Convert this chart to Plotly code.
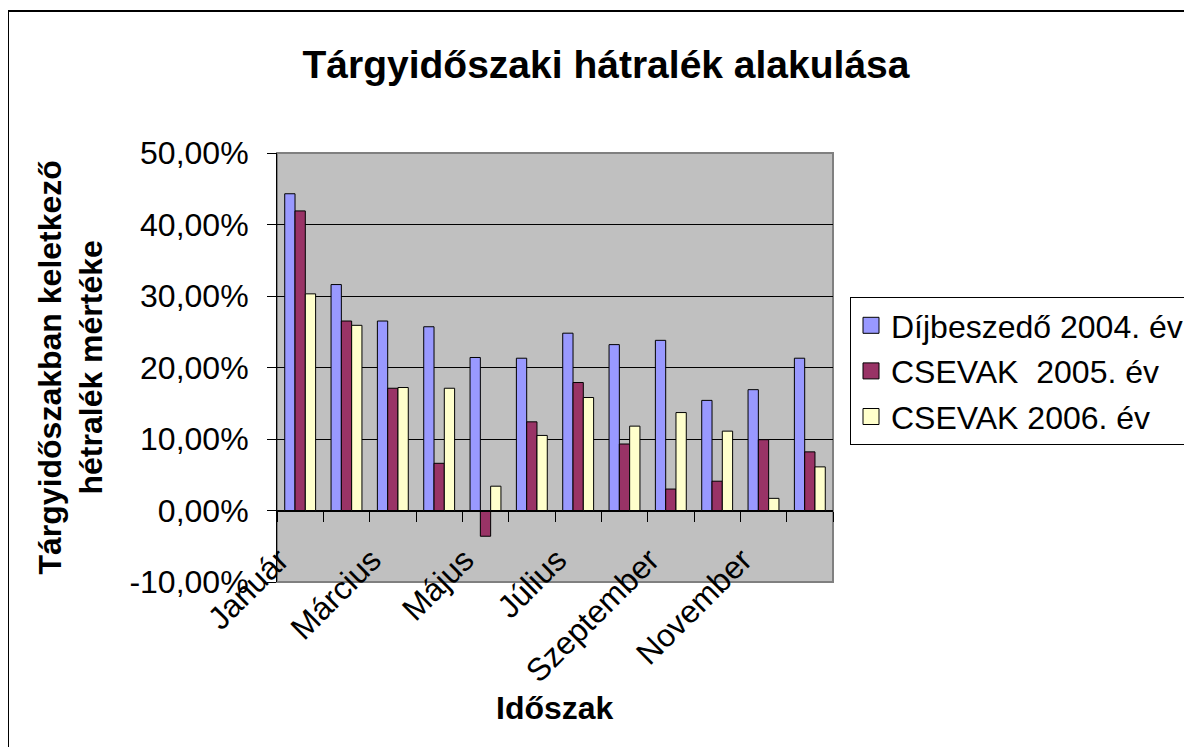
import numpy as np
import plotly.graph_objects as go

months = ["Január", "Február", "Március", "Április", "Május", "Június",
          "Július", "Augusztus", "Szeptember", "Október", "November", "December"]
dij_2004 = [44.3, 31.6, 26.5, 25.7, 21.4, 21.3, 24.8, 23.2, 23.8, 15.4, 16.9, 21.3]
csevak_2005 = [41.9, 26.5, 17.1, 6.6, -3.6, 12.4, 17.9, 9.3, 3.0, 4.1, 9.9, 8.2]
csevak_2006 = [30.3, 25.9, 17.2, 17.1, 3.4, 10.5, 15.8, 11.8, 13.7, 11.1, 1.7, 6.1]
series_names = ["Díjbeszedő 2004. év", "CSEVAK  2005. év", "CSEVAK 2006. év"]
y_ticks = [-10, 0, 10, 20, 30, 40, 50]
y_ticktext = [f"{v:.2f}".replace(".", ",") + "%" for v in y_ticks]

FONT = "Liberation Sans, Arial, sans-serif"
OFF = 8  # page body margin
W, H = 1192 - OFF, 747 - OFF
L, R, T, B = 277 - OFF, 833 - OFF, 153 - OFF, 582 - OFF
pw, ph = R - L, B - T

x = np.arange(len(months))
colors = ["#9999FF", "#993366", "#FFFFCC"]
all_vals = [dij_2004, csevak_2005, csevak_2006]

fig = go.Figure()
for i, (name, vals) in enumerate(zip(series_names, all_vals)):
    fig.add_trace(go.Bar(
        x=x, y=vals, name=name, showlegend=False,
        marker=dict(color=colors[i], line=dict(color="black", width=1)),
    ))
# legend entries with larger square swatches
for i, name in enumerate(series_names):
    fig.add_trace(go.Scatter(
        x=[None], y=[None], mode="markers", name=name, legendgroup=f"g{i}",
        marker=dict(symbol="square", size=18, color=colors[i],
                    line=dict(color="black", width=1)),
    ))

ymin, ymax = y_ticks[0], y_ticks[-1]
xr = [-0.5, len(months) - 0.5]

fig.update_layout(
    width=W, height=H,
    margin=dict(l=L, r=W - R, t=T, b=H - B, autoexpand=False),
    paper_bgcolor="white", plot_bgcolor="#C0C0C0",
    barmode="group", bargap=1.5 / 4.5, bargroupgap=0,
    font=dict(family=FONT, size=32, color="black"),
    title=dict(text="<b>Tárgyidőszaki hátralék alakulása</b>",
               font=dict(size=39, family=FONT, color="black"),
               xref="container", x=(606 - OFF) / W, xanchor="center",
               yref="container", y=1 - (64 - OFF) / H, yanchor="middle"),
    xaxis=dict(range=xr, showticklabels=False, ticks="", showgrid=False,
               zeroline=False, showline=False),
    xaxis2=dict(range=xr, overlaying="x", anchor="free",
                position=(0 - ymin) / (ymax - ymin),
                tickmode="array", tickvals=list(x[::2]), ticktext=months[::2],
                ticks="", tickangle=-45, showgrid=False, zeroline=False,
                showline=True, linecolor="black", linewidth=1,
                ticklabelstandoff=17, ticklabelshift=-21,
                tickfont=dict(size=32, family=FONT, color="black"),
                minor=dict(tick0=0.5, dtick=1, ticks="outside", ticklen=10,
                           tickcolor="black", tickwidth=1, showgrid=False)),
    yaxis=dict(range=[ymin, ymax], tickmode="array", tickvals=y_ticks,
               ticktext=y_ticktext, ticks="outside", ticklen=9,
               tickcolor="black", showline=True, linecolor="black",
               linewidth=1, showgrid=True, gridcolor="black", gridwidth=1,
               zeroline=False, ticklabelstandoff=12,
               tickfont=dict(size=32, family=FONT, color="black")),
    legend=dict(x=(850 - 277) / pw, y=(582 - 297) / ph, xanchor="left", yanchor="top",
                bordercolor="black", borderwidth=1, bgcolor="white",
                font=dict(size=32, family=FONT, color="black"),
                traceorder="grouped", tracegroupgap=1),
    showlegend=True,
)

# invisible trace to activate xaxis2
fig.add_trace(go.Scatter(x=[x[0]], y=[None], xaxis="x2", showlegend=False,
                         hoverinfo="skip"))

fig.add_annotation(text="<b>Időszak</b>", xref="paper", yref="paper",
                   x=0.5, y=(582 - 708) / ph, xanchor="center", yanchor="middle",
                   showarrow=False, font=dict(size=32, family=FONT, color="black"))
fig.add_annotation(text="<b>Tárgyidőszakban keletkező<br>hétralék mértéke</b>",
                   xref="paper", yref="paper", x=(70 - 277) / pw, y=0.5,
                   xanchor="center", yanchor="middle", textangle=-90,
                   showarrow=False, font=dict(size=32, family=FONT, color="black"))

# plot area border (grey) and chart border
fig.add_shape(type="rect", xref="paper", yref="paper", x0=0, y0=0, x1=1, y1=1,
              line=dict(color="#808080", width=2), layer="below")
fig.add_shape(type="rect", xref="paper", yref="paper",
              x0=(8 - 277) / pw, y0=(582 - 770) / ph, x1=(1220 - 277) / pw,
              y1=(582 - 11) / ph,
              line=dict(color="black", width=2), fillcolor="rgba(0,0,0,0)")

fig.write_html("out.html")
